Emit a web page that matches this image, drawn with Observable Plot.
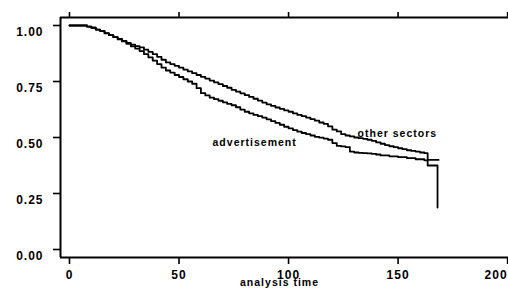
<!DOCTYPE html>
<html>
<head>
<meta charset="utf-8">
<script src="https://cdn.jsdelivr.net/npm/d3@7"></script>
<script src="https://cdn.jsdelivr.net/npm/@observablehq/plot@0.6"></script>
<style>
  html, body { margin: 0; padding: 0; background: #fff; }
</style>
</head>
<body>
<div id="chart"></div>
<script>
// Kaplan–Meier estimates
const groups = ["other sectors", "advertisement"];
const timeOther = [0, 6, 8, 10, 12, 14, 16, 18, 20, 22, 24, 26, 28, 30, 32, 34, 36, 38, 40, 42, 44, 46, 48, 50, 52, 54, 56, 58, 60, 62, 64, 66, 68, 70, 72, 74, 76, 78, 80, 82, 84, 86, 88, 90, 92, 94, 96, 98, 100, 102, 104, 106, 108, 110, 112, 114, 116, 118, 120, 122, 124, 126, 128, 130, 132, 134, 136, 138, 140, 142, 144, 146, 148, 150, 152, 154, 156, 158, 160, 162, 163.5, 168.5];
const survOther = [1.0, 1.0, 0.995, 0.99, 0.982, 0.975, 0.965, 0.957, 0.948, 0.94, 0.931, 0.922, 0.915, 0.908, 0.902, 0.892, 0.882, 0.872, 0.86, 0.847, 0.835, 0.828, 0.82, 0.812, 0.803, 0.795, 0.787, 0.779, 0.771, 0.763, 0.754, 0.746, 0.738, 0.73, 0.722, 0.713, 0.705, 0.697, 0.689, 0.681, 0.673, 0.665, 0.656, 0.648, 0.641, 0.634, 0.628, 0.621, 0.615, 0.608, 0.601, 0.595, 0.589, 0.582, 0.575, 0.567, 0.561, 0.55, 0.535, 0.527, 0.515, 0.509, 0.505, 0.5, 0.497, 0.494, 0.49, 0.485, 0.478, 0.472, 0.466, 0.461, 0.457, 0.452, 0.448, 0.443, 0.44, 0.437, 0.433, 0.43, 0.40, 0.40];
const timeAdv = [0, 6, 8, 10, 12, 14, 16, 18, 20, 22, 24, 26, 28, 30, 32, 34, 36, 38, 40, 42, 44, 46, 48, 50, 52, 54, 56, 58, 60, 62, 64, 66, 68, 70, 72, 74, 76, 78, 80, 82, 84, 86, 88, 90, 92, 94, 96, 98, 100, 102, 104, 106, 108, 110, 112, 114, 116, 118, 120, 122, 124, 126, 128, 130, 132, 134, 136, 138, 140, 142, 146, 150, 154, 158, 162, 163.5, 168];
const survAdv = [1.0, 1.0, 0.995, 0.99, 0.982, 0.975, 0.966, 0.957, 0.948, 0.938, 0.929, 0.918, 0.907, 0.897, 0.886, 0.872, 0.858, 0.843, 0.828, 0.812, 0.799, 0.79, 0.779, 0.77, 0.76, 0.75, 0.74, 0.72, 0.698, 0.688, 0.678, 0.671, 0.664, 0.657, 0.65, 0.644, 0.635, 0.624, 0.615, 0.608, 0.601, 0.595, 0.589, 0.581, 0.573, 0.565, 0.557, 0.548, 0.541, 0.533, 0.526, 0.52, 0.515, 0.509, 0.503, 0.499, 0.495, 0.49, 0.475, 0.463, 0.46, 0.457, 0.437, 0.433, 0.431, 0.43, 0.429, 0.427, 0.424, 0.42, 0.416, 0.412, 0.408, 0.403, 0.398, 0.375, 0.187];

const xTicks = [0, 50, 100, 150, 200];
const yTicks = [0, 0.25, 0.5, 0.75, 1];
const xLabel = "analysis time";
// curve annotations, in data units (label, time, survival)
const labelText = ["advertisement", "other sectors"];
const labelTime = [65.3, 131.5];
const labelSurv = [0.464, 0.504];

const xDomain = [-4.1, 200.4];
const yDomain = [-0.0357, 1.0357];

const km = [
  ...timeOther.map((t, i) => ({group: groups[0], t, s: survOther[i]})),
  ...timeAdv.map((t, i) => ({group: groups[1], t, s: survAdv[i]}))
];
const labels = labelText.map((label, i) => ({label, t: labelTime[i], s: labelSurv[i]}));
const fmtX = d3.format("d");

const chart = Plot.plot({
  width: 508,
  height: 289,
  marginLeft: 60,
  marginRight: 0,
  marginTop: 17,
  marginBottom: 32,
  x: {domain: xDomain},
  y: {domain: yDomain},
  style: {
    fontFamily: "'Liberation Sans', Arial, sans-serif",
    fontWeight: "bold",
    letterSpacing: "1px",
    color: "#000",
    background: "#fff"
  },
  marks: [
    // frame lines (left, bottom, top)
    Plot.ruleX([xDomain[0]], {stroke: "#000", strokeWidth: 2}),
    Plot.ruleY([yDomain[0]], {stroke: "#000", strokeWidth: 2}),
    Plot.ruleY([yDomain[1]], {stroke: "#000", strokeWidth: 2}),
    // y axis
    Plot.axisY(yTicks, {anchor: "left", tickSize: 7, text: null, strokeWidth: 1.6, label: null}),
    Plot.axisY(yTicks, {anchor: "left", tickSize: 0, tickPadding: 17, dy: 6.5, fontSize: 12, tickFormat: d3.format(".2f"), label: null}),
    // bottom x axis
    Plot.axisX(xTicks, {anchor: "bottom", tickSize: 7, text: null, strokeWidth: 1.6, label: null}),
    Plot.axisX(xTicks.slice(0, -1), {anchor: "bottom", tickSize: 0, tickPadding: 13, fontSize: 12, tickFormat: fmtX, label: null}),
    Plot.axisX(xTicks.slice(-1), {anchor: "bottom", tickSize: 0, tickPadding: 13, fontSize: 12, tickFormat: fmtX, textAnchor: "end", dx: 0, label: null}),
    // top x axis (ticks only)
    Plot.axisX(xTicks, {anchor: "top", tickSize: 6, text: null, strokeWidth: 1.6, label: null}),
    // survival curves
    Plot.line(km, {x: "t", y: "s", z: "group", curve: "step-after", stroke: "#000", strokeWidth: 1.8}),
    // curve labels
    Plot.text(labels, {x: "t", y: "s", text: "label", textAnchor: "start", lineAnchor: "bottom", fontSize: 10.5, fill: "#000"}),
    // x axis title
    Plot.text([xLabel], {frameAnchor: "bottom", dx: -5, dy: 28, lineAnchor: "bottom", textAnchor: "middle", fontSize: 10.5, fill: "#000"})
  ]
});
document.getElementById("chart").appendChild(chart);
</script>
</body>
</html>
